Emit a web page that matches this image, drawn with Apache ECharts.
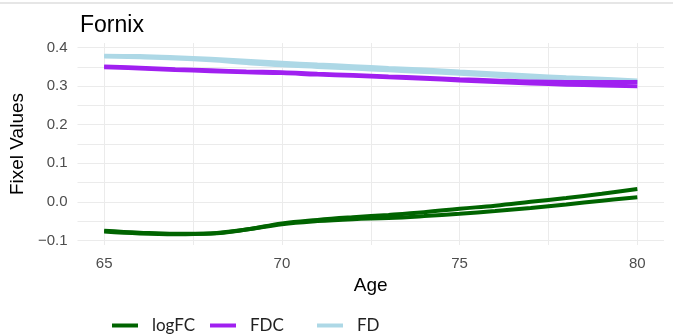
<!DOCTYPE html>
<html>
<head>
<meta charset="utf-8">
<script src="https://cdn.jsdelivr.net/npm/echarts@6/dist/echarts.min.js"></script>
<style>
  html, body { margin: 0; padding: 0; background: #fff; }
  #grafico { width: 673px; height: 335px; }
</style>
</head>
<body>
<div id="grafico"></div>
<script>
// ages on the x axis (one smooth line per group)
var ages = [65, 66, 67, 68, 69, 70, 71, 72, 73, 74, 75, 76, 77, 78, 79, 80];

var logFC_a = [-0.075, -0.080, -0.083, -0.082, -0.072, -0.056, -0.047, -0.040, -0.034, -0.027, -0.018, -0.010, 0.000, 0.010, 0.021, 0.033];
var logFC_b = [-0.077, -0.082, -0.084, -0.082, -0.072, -0.058, -0.050, -0.045, -0.042, -0.037, -0.031, -0.024, -0.016, -0.007, 0.003, 0.012];
var FDC_a = [0.351, 0.348, 0.344, 0.341, 0.338, 0.336, 0.332, 0.329, 0.325, 0.322, 0.318, 0.315, 0.312, 0.311, 0.311, 0.311];
var FDC_b = [0.349, 0.346, 0.342, 0.339, 0.336, 0.334, 0.330, 0.327, 0.323, 0.319, 0.315, 0.311, 0.307, 0.304, 0.302, 0.300];
var FD_a = [0.379, 0.378, 0.375, 0.371, 0.366, 0.361, 0.356, 0.352, 0.347, 0.343, 0.338, 0.333, 0.328, 0.323, 0.319, 0.315];
var FD_b = [0.377, 0.375, 0.372, 0.367, 0.360, 0.354, 0.350, 0.346, 0.341, 0.337, 0.332, 0.327, 0.322, 0.317, 0.314, 0.311];

var xTicks = [65, 67.5, 70, 72.5, 75, 77.5, 80];
var xLabels = [65, 70, 75, 80];
var yTicks = [-0.1, -0.05, 0, 0.05, 0.1, 0.15, 0.2, 0.25, 0.3, 0.35, 0.4];
var yLabels = [-0.1, 0, 0.1, 0.2, 0.3, 0.4];

var colors = { logFC: '#006400', FDC: '#A020F0', FD: '#ADD8E6' };

function pairs(ys) {
  return ages.map(function (a, i) { return [a, ys[i]]; });
}

function line(name, ys) {
  return {
    name: name,
    type: 'line',
    data: pairs(ys),
    smooth: 0.4,
    showSymbol: false,
    lineStyle: { width: 4, color: colors[name] },
    itemStyle: { color: colors[name] },
    emphasis: { disabled: true }
  };
}

function legendItem(name, left) {
  return {
    data: [name],
    left: left,
    top: 312,
    icon: 'rect',
    itemWidth: 26,
    itemHeight: 4,
    itemGap: 0,
    textStyle: { fontFamily: 'Lato', fontSize: 17, color: '#222', padding: [0, 0, 0, 9] }
  };
}

var chartDom = document.getElementById('grafico');
var myChart = echarts.init(chartDom);
var option;
option = {
  animation: false,
  title: {
    text: 'Fornix',
    left: 75,
    top: 9,
    textStyle: { fontFamily: 'Liberation Sans', fontSize: 23, fontWeight: 'normal', color: '#000' }
  },
  graphic: [{
    type: 'rect',
    shape: { x: 0, y: 2, width: 673, height: 2 },
    style: { fill: '#e6e6e6' }
  }],
  legend: [legendItem('logFC', 107), legendItem('FDC', 205), legendItem('FD', 312)],
  grid: { left: 77, right: 9, top: 43, bottom: 90 },
  xAxis: {
    type: 'value',
    min: 64.25,
    max: 80.75,
    name: 'Age',
    nameLocation: 'middle',
    nameGap: 30,
    nameTextStyle: { fontFamily: 'Liberation Sans', fontSize: 19, color: '#000' },
    axisLine: { show: false },
    axisTick: { show: false, customValues: xTicks },
    axisLabel: {
      customValues: xLabels,
      margin: 11,
      fontFamily: 'Liberation Sans',
      fontSize: 15,
      color: '#4d4d4d'
    },
    splitLine: { show: true, lineStyle: { color: '#ebebeb', width: 1 } }
  },
  yAxis: {
    type: 'value',
    min: -0.112,
    max: 0.412,
    name: 'Fixel Values',
    nameLocation: 'middle',
    nameGap: 48,
    nameTextStyle: { fontFamily: 'Liberation Sans', fontSize: 19, color: '#000' },
    axisLine: { show: false },
    axisTick: { show: false, customValues: yTicks },
    axisLabel: {
      customValues: yLabels,
      margin: 10,
      fontFamily: 'Liberation Sans',
      fontSize: 15,
      color: '#4d4d4d',
      formatter: function (v) {
        var s = v.toFixed(1);
        return s.replace('-', '\u2212');
      }
    },
    splitLine: { show: true, lineStyle: { color: '#ebebeb', width: 1 } }
  },
  series: [
    line('FD', FD_a),
    line('FD', FD_b),
    line('FDC', FDC_a),
    line('FDC', FDC_b),
    line('logFC', logFC_a),
    line('logFC', logFC_b)
  ]
};

option && myChart.setOption(option);
</script>
</body>
</html>
